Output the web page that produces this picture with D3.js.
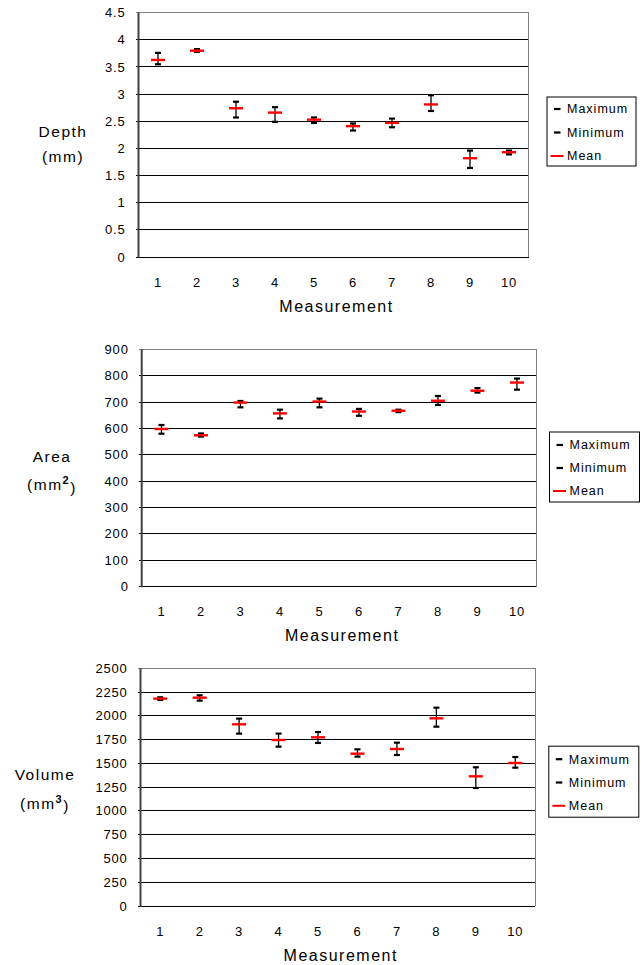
<!DOCTYPE html>
<html><head><meta charset="utf-8">
<script src="https://cdn.jsdelivr.net/npm/d3@7"></script>
<style>
body{margin:0;background:#fff;}
svg{display:block;font-family:"Liberation Sans",Arial,sans-serif;}
</style></head>
<body>
<svg id="c" width="642" height="965"></svg>
<script>
const categories = ["1","2","3","4","5","6","7","8","9","10"];

const depthMax  = [3.76,3.83,2.86,2.76,2.57,2.46,2.55,2.98,1.96,1.96];
const depthMin  = [3.55,3.78,2.57,2.49,2.47,2.33,2.39,2.69,1.64,1.89];
const depthMean = [3.63,3.80,2.74,2.66,2.53,2.41,2.47,2.81,1.82,1.93];
const depthTicks = [0,0.5,1,1.5,2,2.5,3,3.5,4,4.5];

const areaMax  = [613,581,704,671,713,674,671,723,753,789];
const areaMin  = [580,569,680,638,680,648,662,689,736,747];
const areaMean = [598,574,698,657,702,664,667,705,743,774];
const areaTicks = [0,100,200,300,400,500,600,700,800,900];

const volMax  = [2195,2216,1971,1813,1830,1648,1718,2086,1459,1567];
const volMin  = [2167,2160,1813,1676,1715,1571,1588,1886,1241,1455];
const volMean = [2181,2191,1911,1746,1774,1602,1651,1974,1364,1504];
const volTicks = [0,250,500,750,1000,1250,1500,1750,2000,2250,2500];

const legendLabels = ["Maximum","Minimum","Mean"];
const xTitle = "Measurement";

const svg = d3.select("#c");

function drawChart(o){
  const g = svg.append("g");
  const x = d3.scaleBand().domain(categories).range([o.left,o.right]);
  const y = d3.scaleLinear().domain([0,o.ticks[o.ticks.length-1]]).range([o.bottom,o.top]);
  const topV = o.ticks[o.ticks.length-1];
  // grid lines
  g.selectAll("line.grid").data(o.ticks).enter().append("line")
    .attr("x1",o.left-3).attr("x2",o.right)
    .attr("y1",d=>y(d)).attr("y2",d=>y(d))
    .attr("stroke",d=>d===topV?"#808080":"#000").attr("stroke-width",1)
    .attr("shape-rendering","crispEdges");
  // right border
  g.append("line").attr("x1",o.right).attr("x2",o.right).attr("y1",o.top).attr("y2",o.bottom)
    .attr("stroke","#808080").attr("stroke-width",1).attr("shape-rendering","crispEdges");
  // left axis
  g.append("line").attr("x1",o.left).attr("x2",o.left).attr("y1",o.top).attr("y2",o.bottom+0.5)
    .attr("stroke","#404040").attr("stroke-width",2);
  // y tick labels
  g.selectAll("text.yt").data(o.ticks).enter().append("text")
    .attr("x",o.left-13).attr("y",d=>y(d)).attr("dy","0.35em")
    .attr("text-anchor","end").attr("font-size",13).attr("letter-spacing","0.8px").attr("fill","#000")
    .text(d=>d);
  // x tick labels
  g.selectAll("text.xt").data(categories).enter().append("text")
    .attr("x",d=>x(d)+x.bandwidth()/2).attr("y",o.bottom+25).attr("dy","0.35em")
    .attr("text-anchor","middle").attr("font-size",13).attr("letter-spacing","0.8px").attr("fill","#000")
    .text(d=>d);
  // x title
  g.append("text").attr("x",(o.left+o.right)/2+3).attr("y",o.bottom+49).attr("dy","0.35em")
    .attr("text-anchor","middle").attr("font-size",16).attr("letter-spacing","1.5px").text(xTitle);
  // y title
  const t1 = g.append("text").attr("x",o.ytx).attr("y",o.yty1).attr("dy","0.35em")
    .attr("text-anchor","middle").attr("font-size",15.5).attr("letter-spacing","1.5px").text(o.ytitle1);
  const t2 = g.append("text").attr("x",o.ytx).attr("y",o.yty2).attr("dy","0.35em")
    .attr("text-anchor","middle").attr("font-size",15.5).attr("letter-spacing","1.5px");
  t2.append("tspan").text(o.ytitle2a);
  if(o.sup){
    t2.append("tspan").attr("font-size",11).attr("font-weight","bold").attr("dy","-0.55em").text(o.sup);
    t2.append("tspan").attr("dy","0.55em").text(")");
  }
  // error bars
  const idx = d3.range(categories.length);
  const cx = i => x(categories[i])+x.bandwidth()/2;
  g.selectAll("line.v").data(idx).enter().append("line")
    .attr("x1",cx).attr("x2",cx).attr("y1",i=>y(o.max[i])).attr("y2",i=>y(o.min[i]))
    .attr("stroke","#000").attr("stroke-width",1.3);
  g.selectAll("line.cmax").data(idx).enter().append("line")
    .attr("x1",i=>cx(i)-3).attr("x2",i=>cx(i)+3).attr("y1",i=>y(o.max[i])).attr("y2",i=>y(o.max[i]))
    .attr("stroke","#000").attr("stroke-width",2.2);
  g.selectAll("line.cmin").data(idx).enter().append("line")
    .attr("x1",i=>cx(i)-3).attr("x2",i=>cx(i)+3).attr("y1",i=>y(o.min[i])).attr("y2",i=>y(o.min[i]))
    .attr("stroke","#000").attr("stroke-width",2.2);
  g.selectAll("line.mean").data(idx).enter().append("line")
    .attr("x1",i=>cx(i)-7).attr("x2",i=>cx(i)+7).attr("y1",i=>y(o.mean[i])).attr("y2",i=>y(o.mean[i]))
    .attr("stroke","#ff0000").attr("stroke-width",2.4);
  // legend
  const L = o.legend;
  g.append("rect").attr("x",L.x+0.5).attr("y",L.y+0.5).attr("width",L.w).attr("height",L.h)
    .attr("fill","#fff").attr("stroke","#000").attr("stroke-width",1);
  legendLabels.forEach((lab,i)=>{
    const ly = L.y + L.first + i*L.step;
    if(i<2){
      g.append("line").attr("x1",L.x+7.5).attr("x2",L.x+14).attr("y1",ly).attr("y2",ly)
        .attr("stroke","#000").attr("stroke-width",2.2);
    } else {
      g.append("line").attr("x1",L.x+4).attr("x2",L.x+17).attr("y1",ly).attr("y2",ly)
        .attr("stroke","#ff0000").attr("stroke-width",2);
    }
    g.append("text").attr("x",L.x+20.5).attr("y",ly).attr("dy","0.35em")
      .attr("font-size",12.5).attr("letter-spacing","1px").text(lab);
  });
}

drawChart({left:138.5,right:528.5,top:12.7,bottom:257,ticks:depthTicks,
  max:depthMax,min:depthMin,mean:depthMean,
  ytx:63,yty1:131.5,yty2:156.5,ytitle1:"Depth",ytitle2a:"(mm)",sup:null,
  legend:{x:546.5,y:96.5,w:89,h:69,first:12.5,step:23.5}});

drawChart({left:141.7,right:536.7,top:349.3,bottom:586.7,ticks:areaTicks,
  max:areaMax,min:areaMin,mean:areaMean,
  ytx:52,yty1:456.5,yty2:485,ytitle1:"Area",ytitle2a:"(mm",sup:"2",
  legend:{x:549,y:431.5,w:90,h:70,first:13.5,step:23}});

drawChart({left:140.5,right:535,top:668.3,bottom:906,ticks:volTicks,
  max:volMax,min:volMin,mean:volMean,
  ytx:45,yty1:774.3,yty2:803.3,ytitle1:"Volume",ytitle2a:"(mm",sup:"3",
  legend:{x:548.3,y:745.7,w:90,h:71,first:13.5,step:23.3}});
</script>
</body></html>
